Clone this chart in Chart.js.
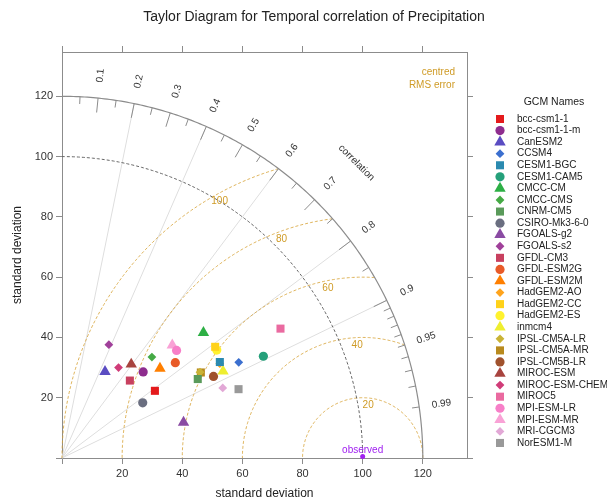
<!DOCTYPE html>
<html>
<head>
<meta charset="utf-8">
<script src="https://cdn.jsdelivr.net/npm/chart.js@4.4.1/dist/chart.umd.min.js"></script>
<style>
  html, body { margin: 0; padding: 0; background: #fff; }
  canvas { display: block; }
</style>
</head>
<body>
<canvas id="taylorChart" width="607" height="504"></canvas>
<script>
// GCM names
const models = ['bcc-csm1-1', 'bcc-csm1-1-m', 'CanESM2', 'CCSM4', 'CESM1-BGC', 'CESM1-CAM5', 'CMCC-CM',
  'CMCC-CMS', 'CNRM-CM5', 'CSIRO-Mk3-6-0', 'FGOALS-g2', 'FGOALS-s2', 'GFDL-CM3', 'GFDL-ESM2G', 'GFDL-ESM2M',
  'HadGEM2-AO', 'HadGEM2-CC', 'HadGEM2-ES', 'inmcm4', 'IPSL-CM5A-LR', 'IPSL-CM5A-MR', 'IPSL-CM5B-LR',
  'MIROC-ESM', 'MIROC-ESM-CHEM', 'MIROC5', 'MPI-ESM-LR', 'MPI-ESM-MR', 'MRI-CGCM3', 'NorESM1-M'];

// standard deviation of each model
const stdDev = [38.1, 39.3, 32.0, 66.8, 61.4, 75.0, 62.8, 44.9, 52.2, 32.5, 42.1, 40.7, 34.2, 49.2, 44.1,
  61.1, 62.9, 62.7, 60.8, 54.0, 54.2, 57.2, 38.7, 35.4, 84.4, 52.2, 52.4, 58.3, 63.0];

// correlation with observed
const correlation = [0.811, 0.687, 0.447, 0.880, 0.855, 0.893, 0.749, 0.666, 0.865, 0.826, 0.960, 0.383,
  0.660, 0.766, 0.739, 0.859, 0.810, 0.821, 0.881, 0.850, 0.852, 0.881, 0.595, 0.531, 0.861, 0.730, 0.700,
  0.917, 0.932];

const modelColors = ['#E41A1C', '#8E2C8E', '#5A4CC2', '#3B6FCF', '#2B8AB0', '#25A07A', '#2DAF45', '#45AA45',
  '#5A9A5A', '#6A6E80', '#8A4BA3', '#A0409A', '#C8405F', '#E85A28', '#FF7F00', '#FFA41C', '#FFD21A',
  '#FFF22E', '#EEEE30', '#C9B336', '#B88A1E', '#A0522D', '#A8443F', '#D03C78', '#EA6AA0', '#F77FC8',
  '#F9A2D6', '#E2A8D6', '#999999'];

// reference (observed) and diagram levels
const observedSd = 100;
const maxSd = 120;
const axisMax = 134.7;
const sdTicks = [0, 20, 40, 60, 80, 100, 120];
const rmsLevels = [20, 40, 60, 80, 100];
const corRays = [0.2, 0.4, 0.6, 0.8, 0.9];
const corMajor = [0.1, 0.2, 0.3, 0.4, 0.5, 0.6, 0.7, 0.8, 0.9];
const corLabelled = [0.1, 0.2, 0.3, 0.4, 0.5, 0.6, 0.7, 0.8, 0.9, 0.95, 0.99];
const corMinor = [0.05, 0.15, 0.25, 0.35, 0.45, 0.55, 0.65, 0.75, 0.85,
  0.91, 0.92, 0.93, 0.94, 0.95, 0.96, 0.97, 0.98, 0.99];

const shapes = ['rect', 'circle', 'triangle', 'rectRot'];
const shapeRadius = { rect: 5.7, circle: 4.6, triangle: 6.6, rectRot: 4.4 };
const gold = '#CF9B26';
const FONT = "'Liberation Sans', Arial, sans-serif";

Chart.defaults.font.family = FONT;

const datasets = models.map(function (name, i) {
  const sd = stdDev[i], r = correlation[i];
  const style = shapes[i % 4];
  return {
    label: name,
    data: [{ x: sd * r, y: sd * Math.sqrt(1 - r * r) }],
    pointStyle: style,
    pointRadius: shapeRadius[style],
    pointHoverRadius: shapeRadius[style],
    backgroundColor: modelColors[i],
    borderColor: modelColors[i],
    borderWidth: 0,
  };
});

// Taylor grid: arcs, rays, rms circles, labels
const taylorPlugin = {
  id: 'taylor',
  beforeDatasetsDraw(chart) {
    const ctx = chart.ctx;
    const X = v => chart.scales.x.getPixelForValue(v);
    const Y = v => chart.scales.y.getPixelForValue(v);
    const polar = (r, a) => [X(r * Math.cos(a)), Y(r * Math.sin(a))];

    function arc(cx, r, a0, a1) {
      ctx.beginPath();
      const n = 200;
      for (let k = 0; k <= n; k++) {
        const a = a0 + (a1 - a0) * k / n;
        const px = X(cx + r * Math.cos(a)), py = Y(r * Math.sin(a));
        if (k === 0) ctx.moveTo(px, py); else ctx.lineTo(px, py);
      }
      ctx.stroke();
    }

    ctx.save();
    ctx.lineWidth = 1;

    // correlation rays
    ctx.strokeStyle = '#dedede';
    corRays.forEach(function (c) {
      const a = Math.acos(c);
      const p = polar(maxSd, a);
      ctx.beginPath();
      ctx.moveTo(X(0), Y(0));
      ctx.lineTo(p[0], p[1]);
      ctx.stroke();
    });

    // centred RMS error circles
    ctx.strokeStyle = 'rgba(214, 160, 50, 0.8)';
    ctx.setLineDash([3, 2]);
    rmsLevels.forEach(function (R) {
      const cosEnd = (maxSd * maxSd - observedSd * observedSd - R * R) / (2 * observedSd * R);
      const aEnd = Math.acos(Math.min(1, Math.max(-1, cosEnd)));
      arc(observedSd, R, aEnd, Math.PI);
    });

    // observed sd arc
    ctx.strokeStyle = '#666';
    ctx.setLineDash([3, 2]);
    arc(0, observedSd, 0, Math.PI / 2);

    // outer arc
    ctx.setLineDash([]);
    ctx.strokeStyle = '#8c8c8c';
    ctx.lineWidth = 1.2;
    arc(0, maxSd, 0, Math.PI / 2);

    // correlation ticks
    ctx.lineWidth = 1;
    ctx.strokeStyle = '#8c8c8c';
    corMinor.forEach(function (c) {
      const a = Math.acos(c);
      const p0 = polar(maxSd * 0.98, a), p1 = polar(maxSd, a);
      ctx.beginPath(); ctx.moveTo(p0[0], p0[1]); ctx.lineTo(p1[0], p1[1]); ctx.stroke();
    });
    corMajor.forEach(function (c) {
      const a = Math.acos(c);
      const p0 = polar(maxSd * 0.96, a), p1 = polar(maxSd, a);
      ctx.beginPath(); ctx.moveTo(p0[0], p0[1]); ctx.lineTo(p1[0], p1[1]); ctx.stroke();
    });

    // correlation labels
    ctx.fillStyle = '#333';
    ctx.font = '10px ' + FONT;
    ctx.textAlign = 'center';
    ctx.textBaseline = 'middle';
    corLabelled.forEach(function (c) {
      const a = Math.acos(c);
      const p = polar(127.5, a);
      ctx.save();
      ctx.translate(p[0], p[1]);
      ctx.rotate(-a);
      ctx.fillText(String(c), 0, 0);
      ctx.restore();
    });
    const pc = polar(138.5, Math.PI / 4);
    ctx.save();
    ctx.translate(pc[0], pc[1]);
    ctx.rotate(Math.PI / 4);
    ctx.fillText('correlation', 0, 0);
    ctx.restore();

    // rms labels
    ctx.fillStyle = gold;
    rmsLevels.forEach(function (R, i) {
      const a = (84 + 8.8 * i) * Math.PI / 180;
      ctx.fillText(String(R), X(observedSd + (R - 2.5) * Math.cos(a)), Y((R - 2.5) * Math.sin(a)));
    });
    ctx.textAlign = 'right';
    ctx.fillText('centred', chart.chartArea.right - 12, chart.chartArea.top + 20);
    ctx.fillText('RMS error', chart.chartArea.right - 12, chart.chartArea.top + 33);

    // observed point
    ctx.fillStyle = '#A020F0';
    ctx.textAlign = 'center';
    ctx.fillText('observed', X(observedSd), Y(0) - 8);
    ctx.beginPath();
    ctx.arc(X(observedSd), Y(0) - 1.5, 2.5, 0, Math.PI * 2);
    ctx.fill();

    ctx.restore();
  },
  afterDraw(chart) {
    const ctx = chart.ctx;
    ctx.save();
    // main title
    ctx.fillStyle = '#222';
    ctx.font = '14px ' + FONT;
    ctx.textAlign = 'center';
    ctx.textBaseline = 'middle';
    ctx.fillText('Taylor Diagram for Temporal correlation of Precipitation', 314, 17);

    // legend
    ctx.font = '10.5px ' + FONT;
    ctx.fillText('GCM Names', 554, 102);
    ctx.font = '10px ' + FONT;
    ctx.textAlign = 'left';
    chart.data.datasets.forEach(function (ds, i) {
      const y = 119 + i * 11.57;
      ctx.fillStyle = ds.backgroundColor;
      if (Chart.helpers && Chart.helpers.drawPoint) {
        Chart.helpers.drawPoint(ctx, { pointStyle: ds.pointStyle, radius: ds.pointRadius, rotation: 0, borderWidth: 0 }, 500, y);
      } else {
        ctx.beginPath(); ctx.arc(500, y, 4, 0, Math.PI * 2); ctx.fill();
      }
      ctx.fillStyle = '#222';
      ctx.fillText(ds.label, 517, y);
    });
    ctx.restore();
  }
};

function frameAxis(position, size, labelled) {
  const horizontal = position === 'top' || position === 'bottom';
  return {
    type: 'linear',
    axis: horizontal ? 'x' : 'y',
    position: position,
    min: 0,
    max: axisMax,
    afterFit: function (s) { if (horizontal) s.height = size; else s.width = size; },
    afterBuildTicks: function (s) { s.ticks = sdTicks.map(v => ({ value: v })); },
    ticks: {
      color: '#333',
      font: { size: 11 },
      padding: 3,
      maxRotation: 0,
      autoSkip: false,
      callback: v => (labelled && v !== 0) ? v : ''
    },
    grid: { drawOnChartArea: false, drawTicks: true, tickLength: 6, color: '#8c8c8c' },
    border: { display: true, color: '#8c8c8c' }
  };
}

const xAxis = frameAxis('bottom', 46, true);
xAxis.title = { display: true, text: 'standard deviation', color: '#222', font: { size: 12 }, padding: { top: 0, bottom: 3 } };
const yAxis = frameAxis('left', 62, true);
yAxis.title = { display: true, text: 'standard deviation', color: '#222', font: { size: 12 }, padding: { top: 10, bottom: 0 } };

new Chart(document.getElementById('taylorChart'), {
  type: 'scatter',
  data: { datasets: datasets },
  options: {
    responsive: false,
    animation: false,
    layout: { padding: 0 },
    plugins: {
      legend: { display: false },
      tooltip: { enabled: false }
    },
    scales: {
      x: xAxis,
      y: yAxis,
      x2: frameAxis('top', 52, false),
      y2: frameAxis('right', 140, false)
    }
  },
  plugins: [taylorPlugin]
});
</script>
</body>
</html>
